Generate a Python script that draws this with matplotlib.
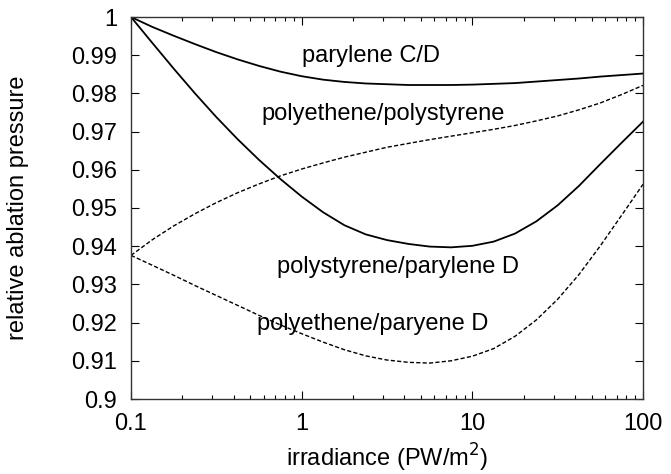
import matplotlib
matplotlib.use("Agg")
import matplotlib.pyplot as plt
from matplotlib.ticker import LogLocator, FixedLocator, NullFormatter

plt.rcParams['font.family'] = ['Liberation Sans', 'DejaVu Sans']

# irradiance sample points (PW/m^2), eighth-decade steps
x_pts = [0.1, 0.1334, 0.1778, 0.2371, 0.3162, 0.4217, 0.5623, 0.7499, 1.0, 1.334, 1.778, 2.371,
         3.162, 4.217, 5.623, 7.499, 10.0, 13.34, 17.78, 23.71, 31.62, 42.17, 56.23, 74.99, 100.0]

# parylene C/D (solid)
y_a = [1.0000, 0.9974, 0.9951, 0.9929, 0.9908, 0.9889, 0.9872, 0.9857, 0.9845, 0.9836, 0.9830, 0.9826,
       0.9824, 0.9822, 0.9822, 0.9822, 0.9823, 0.9825, 0.9827, 0.9831, 0.9835, 0.9839, 0.9844, 0.9848, 0.9852]

# polystyrene/parylene D (solid)
y_b = [1.0000, 0.9932, 0.9865, 0.9800, 0.9738, 0.9680, 0.9626, 0.9576, 0.9530, 0.9489, 0.9455, 0.9431,
       0.9416, 0.9406, 0.9399, 0.9397, 0.9401, 0.9412, 0.9433, 0.9465, 0.9507, 0.9558, 0.9615, 0.9671, 0.9726]

# polyethene/polystyrene (dashed)
y_c = [0.9376, 0.9417, 0.9453, 0.9485, 0.9514, 0.9540, 0.9563, 0.9584, 0.9602, 0.9618, 0.9633, 0.9646,
       0.9659, 0.9669, 0.9679, 0.9688, 0.9697, 0.9706, 0.9716, 0.9728, 0.9741, 0.9757, 0.9775, 0.9797, 0.9821]

# polyethene/paryene D (dashed)
y_d = [0.9376, 0.9350, 0.9324, 0.9297, 0.9271, 0.9245, 0.9219, 0.9194, 0.9171, 0.9149, 0.9129, 0.9113,
       0.9102, 0.9096, 0.9094, 0.9100, 0.9112, 0.9132, 0.9164, 0.9207, 0.9261, 0.9326, 0.9401, 0.9481, 0.9562]

labels = ["parylene C/D", "polyethene/polystyrene", "polystyrene/parylene D", "polyethene/paryene D"]
label_x = [2.55, 3.0, 3.65, 2.62]
label_y = [0.9897, 0.9747, 0.9346, 0.9197]

xticks = [0.1, 1, 10, 100]
xticklabels = ["0.1", "1", "10", "100"]
yticks = [0.9, 0.91, 0.92, 0.93, 0.94, 0.95, 0.96, 0.97, 0.98, 0.99, 1.0]
yticklabels = ["0.9", "0.91", "0.92", "0.93", "0.94", "0.95", "0.96", "0.97", "0.98", "0.99", "1"]

fig = plt.figure(figsize=(6.71, 4.74), dpi=100)
ax = fig.add_axes([131/671, 1-399/474, 512/671, 382/474])

ax.plot(x_pts, y_a, color='black', lw=1.3, solid_joinstyle='round')
ax.plot(x_pts, y_b, color='black', lw=1.3, solid_joinstyle='round')
ax.plot(x_pts, y_c, color='black', lw=1.0, dashes=(3.0, 1.6))
ax.plot(x_pts, y_d, color='black', lw=1.0, dashes=(3.0, 1.6))

for t, tx, ty in zip(labels, label_x, label_y):
    ax.text(tx, ty, t, fontsize=17, ha='center', va='center')

ax.set_xscale('log')
ax.set_xlim(0.1, 100)
ax.set_ylim(0.9, 1.0)
ax.xaxis.set_major_locator(FixedLocator(xticks))
ax.set_xticklabels(xticklabels)
ax.xaxis.set_minor_locator(LogLocator(base=10, subs=range(2, 10)))
ax.xaxis.set_minor_formatter(NullFormatter())
ax.set_yticks(yticks)
ax.set_yticklabels(yticklabels)

ax.tick_params(axis='both', which='major', direction='in', length=6, width=0.8,
               top=True, right=True, labelsize=17, colors='black')
ax.tick_params(axis='x', which='major', pad=10)
ax.tick_params(axis='y', which='major', pad=10)
ax.tick_params(axis='x', which='minor', direction='in', length=3, width=0.8, top=True)
for s in ax.spines.values():
    s.set_linewidth(1.0)
    s.set_color('#333333')

ax.set_xlabel("irradiance (PW/m$^2$)", fontsize=17)
ax.xaxis.set_label_coords(0.5, (399-458)/382)
ax.xaxis.label.set_va('center')
ax.set_ylabel("relative ablation pressure", fontsize=17)
ax.yaxis.set_label_coords((18-131)/512, 0.5)
ax.yaxis.label.set_va('center')

fig.savefig("out.png", dpi=100)
